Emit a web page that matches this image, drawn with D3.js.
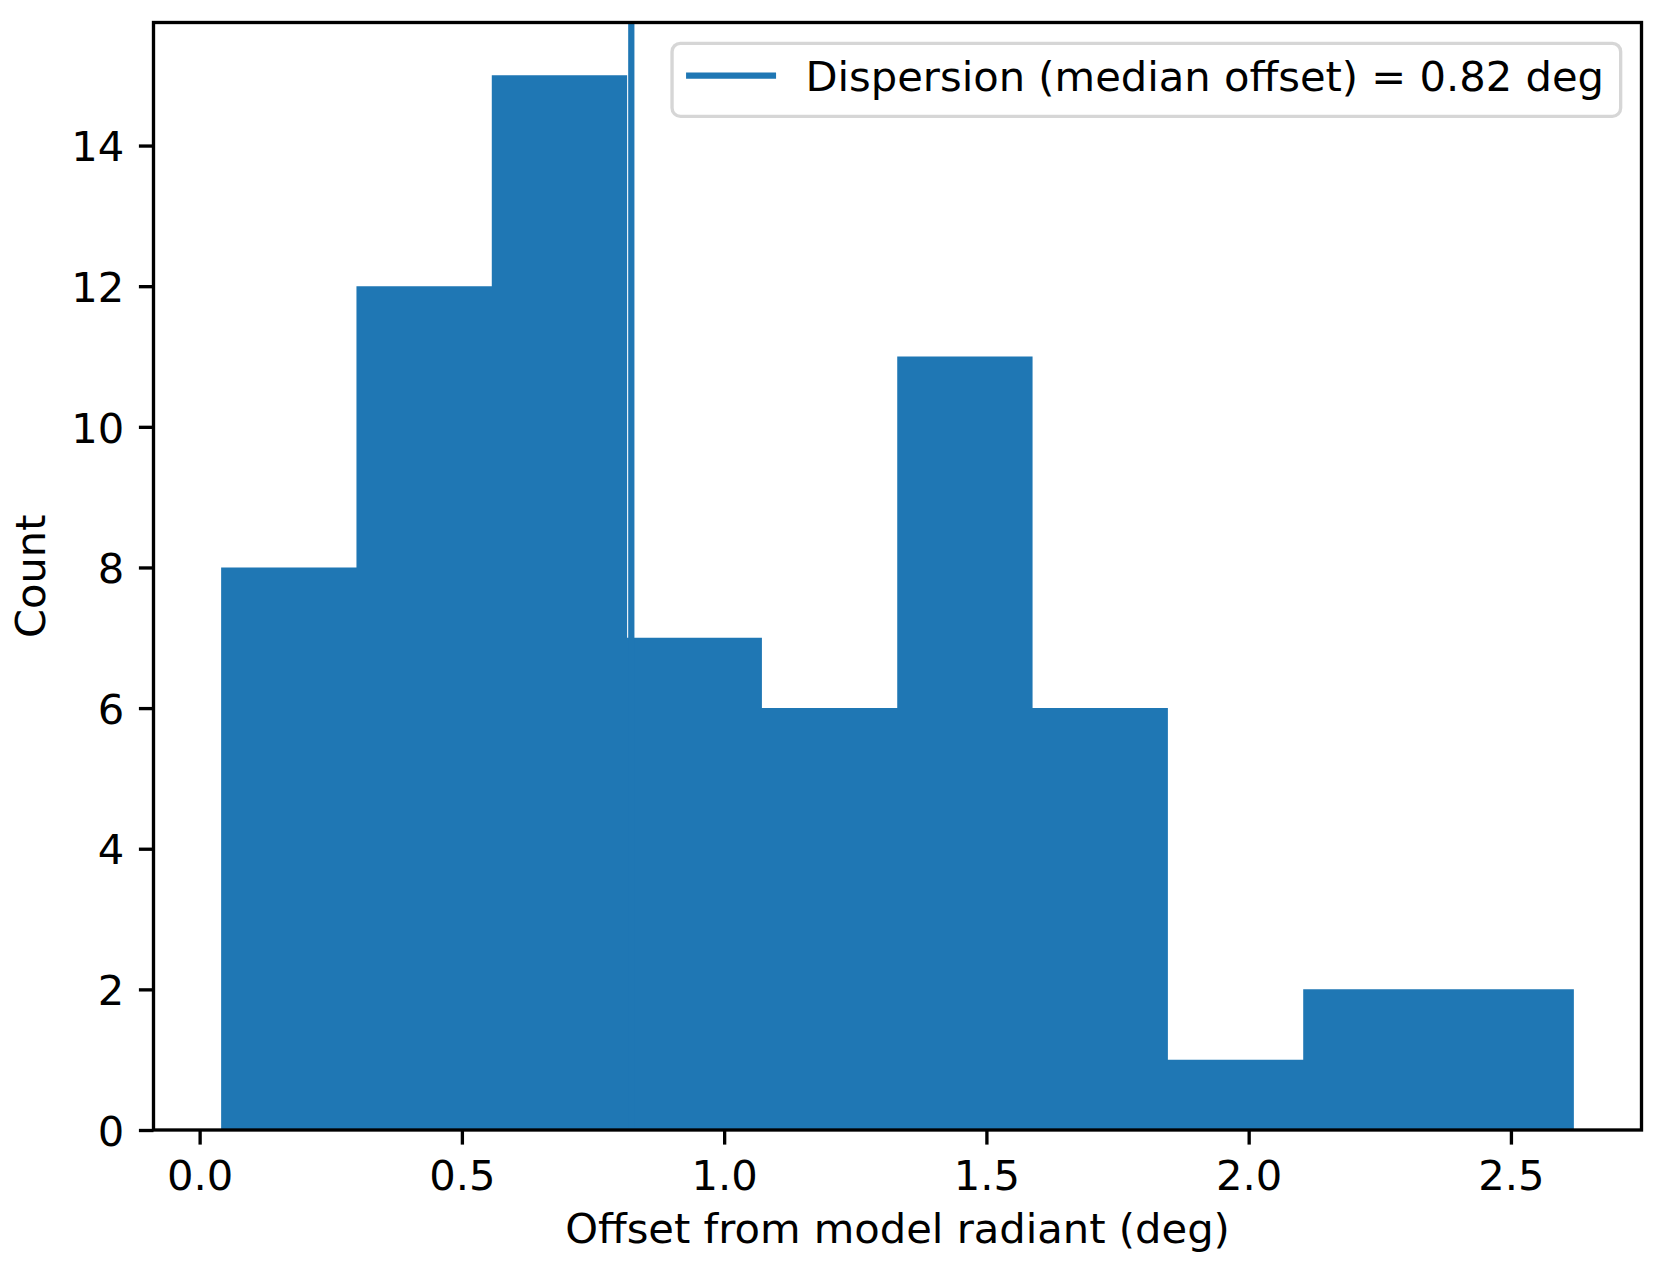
<!DOCTYPE html>
<html>
<head>
<meta charset="utf-8">
<script src="https://cdn.jsdelivr.net/npm/d3@7"></script>
<style>
  body { margin: 0; background: #ffffff; }
  svg { display: block; font-family: "DejaVu Sans", sans-serif; }
</style>
</head>
<body>
<svg id="chart" width="1657" height="1265"></svg>
<script>
// ---- data ----
const binEdges = [0.041, 0.299, 0.557, 0.815, 1.072, 1.330, 1.588, 1.846, 2.104, 2.362, 2.620];
const counts = [8, 12, 15, 7, 6, 11, 6, 1, 2, 2];
const medianOffset = 0.823;
const legendLabel = "Dispersion (median offset) = 0.82 deg";
const xTicks = [0.0, 0.5, 1.0, 1.5, 2.0, 2.5];
const yTicks = [0, 2, 4, 6, 8, 10, 12, 14];
const xLabel = "Offset from model radiant (deg)";
const yLabel = "Count";

// ---- layout ----
const W = 1657, H = 1265;
const axL = 153.5, axR = 1641.5, axT = 22.5, axB = 1130;
const fs = 41.67;
const blue = "#1f77b4";
const spineW = 3.33, tickLen = 14.6, tickPad = 14.6;

const svg = d3.select("#chart");
svg.append("rect").attr("width", W).attr("height", H).attr("fill", "#fff");

const span = binEdges[binEdges.length - 1] - binEdges[0];
const x = d3.scaleLinear()
  .domain([binEdges[0] - 0.05 * span, binEdges[binEdges.length - 1] + 0.05 * span])
  .range([axL, axR]);
const y = d3.scaleLinear().domain([0, d3.max(counts) * 1.05]).range([axB, axT]);

// histogram as one stepped area (no seams between adjacent bars)
const steps = binEdges.map((e, i) => ({ e, c: counts[Math.min(i, counts.length - 1)] }));
const area = d3.area()
  .x(d => x(d.e))
  .y0(y(0))
  .y1(d => y(d.c))
  .curve(d3.curveStepAfter);
svg.append("path").datum(steps).attr("d", area).attr("fill", blue);

// median line
svg.append("line")
  .attr("x1", x(medianOffset)).attr("x2", x(medianOffset))
  .attr("y1", axT).attr("y2", axB)
  .attr("stroke", blue).attr("stroke-width", 6.25);

// axes
const xAxis = d3.axisBottom(x).tickValues(xTicks).tickFormat(d3.format(".1f"))
  .tickSizeInner(tickLen).tickSizeOuter(0).tickPadding(tickPad);
const gx = svg.append("g").attr("transform", `translate(0,${axB})`).call(xAxis);
gx.select(".domain").remove();
gx.selectAll(".tick line").attr("stroke", "#000").attr("stroke-width", spineW);
gx.selectAll(".tick text").attr("font-size", fs).attr("fill", "#000")
  .attr("font-family", "DejaVu Sans").attr("dy", null).attr("y", 60);

const yAxis = d3.axisLeft(y).tickValues(yTicks).tickFormat(d3.format("d"))
  .tickSizeInner(tickLen).tickSizeOuter(0).tickPadding(tickPad);
const gy = svg.append("g").attr("transform", `translate(${axL},0)`).call(yAxis);
gy.select(".domain").remove();
gy.selectAll(".tick line").attr("stroke", "#000").attr("stroke-width", spineW);
gy.selectAll(".tick text").attr("font-size", fs).attr("fill", "#000")
  .attr("font-family", "DejaVu Sans").attr("dy", null).attr("y", 15.2).attr("x", -(tickLen + tickPad));

// spines
svg.append("rect")
  .attr("x", axL).attr("y", axT).attr("width", axR - axL).attr("height", axB - axT)
  .attr("fill", "none").attr("stroke", "#000").attr("stroke-width", spineW)
  .attr("stroke-linejoin", "miter");

// axis labels
svg.append("text").attr("x", (axL + axR) / 2).attr("y", 1243)
  .attr("text-anchor", "middle").attr("font-size", fs).attr("fill", "#000").text(xLabel);
svg.append("text").attr("transform", `translate(45,${(axT + axB) / 2}) rotate(-90)`)
  .attr("text-anchor", "middle").attr("font-size", fs).attr("fill", "#000").text(yLabel);

// legend
const lg = svg.append("g");
const boxRight = axR - 0.5 * fs, boxTop = axT + 0.5 * fs, boxH = 73;
const frame = lg.append("rect");
const txt = lg.append("text").attr("font-size", fs).attr("fill", "#000").text(legendLabel);
const tw = txt.node().getComputedTextLength();
const boxW = 0.4 * fs + 2.0 * fs + 0.8 * fs + tw + 0.4 * fs;
const boxLeft = boxRight - boxW;
frame.attr("x", boxLeft).attr("y", boxTop).attr("width", boxW).attr("height", boxH)
  .attr("rx", 8.3).attr("ry", 8.3)
  .attr("fill", "#fff").attr("fill-opacity", 0.8)
  .attr("stroke", "#cccccc").attr("stroke-opacity", 0.8).attr("stroke-width", spineW);
lg.append("line").attr("x1", boxLeft + 14).attr("x2", boxLeft + 104)
  .attr("y1", 75.7).attr("y2", 75.7)
  .attr("stroke", blue).attr("stroke-width", 6.25);
txt.attr("x", boxLeft + 0.4 * fs + 2.8 * fs).attr("y", 91);
</script>
</body>
</html>
